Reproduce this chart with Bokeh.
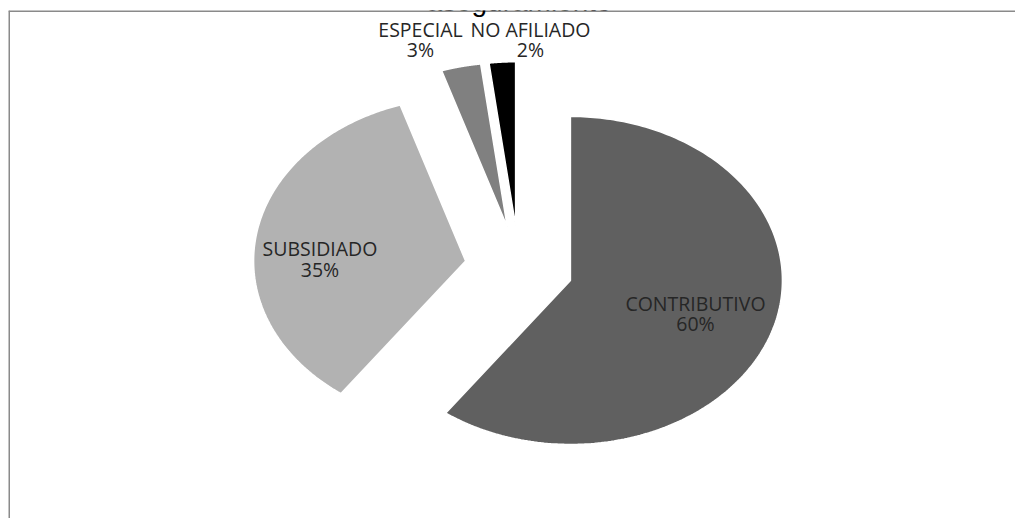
import numpy as np
from bokeh.plotting import figure
from bokeh.models import Range1d, Span, Label
from bokeh.embed import file_html
from bokeh.resources import INLINE
from bokeh.core.properties import value

# ---- data ----
categories = ["CONTRIBUTIVO", "SUBSIDIADO", "ESPECIAL", "NO AFILIADO"]
percentages = [60, 35, 3, 2]
title_text = "aseguramiento"

# ---- style / layout constants ----
colors = ["#606060", "#b2b2b2", "#808080", "#000000"]
W, H = 1015, 518
frame_left = 8                  # page x of plot-area border
frame_top = 10                  # page y of plot-area border
CX, CY = 518.5, 267.0           # page position of pie centre
RX, RY = 212.0, 164.0           # pie radii in px (stretched ellipse)
EXPLODE = 0.255                 # explosion as fraction of radius
# label anchors relative to pie centre, in radius units
label_pos = [(0.8325, -0.2835), (-0.9387, 0.0488), (-0.4646, 1.3872), (0.0542, 1.3872)]

x_start = (frame_left - CX) / RX
x_end = (W - CX) / RX
y_end = (CY - frame_top) / RY
y_start = (CY - H) / RY

p = figure(width=W, height=H,
           x_range=Range1d(x_start, x_end), y_range=Range1d(y_start, y_end),
           output_backend="svg", toolbar_location=None,
           x_axis_location=None, y_axis_location=None,
           min_border_left=frame_left, min_border_right=0,
           min_border_top=frame_top, min_border_bottom=0)
p.grid.visible = False
p.outline_line_color = None
p.background_fill_color = "white"
p.border_fill_color = "white"

# slices
total = float(sum(percentages))
xs, ys = [], []
acc = 0.0
for v in percentages:
    a0 = acc / total * 2 * np.pi
    a1 = (acc + v) / total * 2 * np.pi
    m = 0.5 * (a0 + a1)
    ox, oy = EXPLODE * np.sin(m), EXPLODE * np.cos(m)
    t = np.linspace(a0, a1, 240)
    xs.append([ox] + list(ox + np.sin(t)) + [ox])
    ys.append([oy] + list(oy + np.cos(t)) + [oy])
    acc += v

p.patches(xs, ys, fill_color=colors, line_color="white", line_width=1.5)

# data labels: category line and percentage line
lx = [lp[0] for lp in label_pos]
ly = [lp[1] for lp in label_pos]
p.text(x=lx, y=ly, text=categories, y_offset=-10.5,
       text_align="center", text_baseline="alphabetic",
       text_font=value("Open Sans"), text_font_size="19.5px", text_color="#262626")
p.text(x=lx, y=ly, text=[f"{v}%" for v in percentages], y_offset=10,
       text_align="center", text_baseline="alphabetic",
       text_font=value("Open Sans"), text_font_size="19.5px", text_color="#262626")

# plot-area border (left & top visible)
p.add_layout(Span(location=(frame_left + 0.5 - CX) / RX, dimension="height",
                  line_color="#8a8a8a", line_width=2))
p.add_layout(Span(location=(CY - (frame_top + 0.5)) / RY, dimension="width",
                  line_color="#8a8a8a", line_width=2))

# title (partly outside the page top, as in the reference)
p.add_layout(Label(x=0, y=(CY - 16.5) / RY, text=title_text,
                   text_align="center", text_baseline="bottom",
                   text_font="Liberation Sans", text_font_size="28px",
                   text_color="#000000"))

open("out.html", "w").write(file_html(p, INLINE))
